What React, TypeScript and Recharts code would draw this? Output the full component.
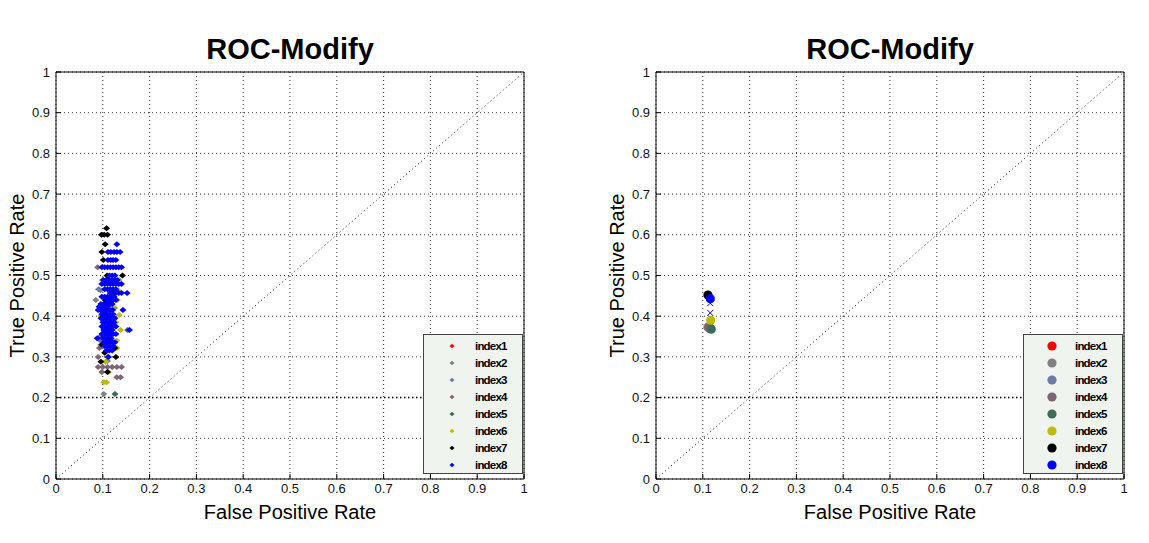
import React from 'react';
import {
  ScatterChart, Scatter, XAxis, YAxis, CartesianGrid, ReferenceLine, Legend,
} from 'recharts';

const TICKS = [0, 0.1, 0.2, 0.3, 0.4, 0.5, 0.6, 0.7, 0.8, 0.9, 1];
const SERIES_NAMES = ['index1', 'index2', 'index3', 'index4', 'index5', 'index6', 'index7', 'index8'];
const SERIES_COLORS = ['#ff0000', '#808080', '#6d7ca6', '#806476', '#3e6a58', '#bcbc00', '#000000', '#0000ff'];

// left panel: one ROC point per run, [fpr, tpr]
const leftIndex1: [number, number][] = [[0.11, 0.4], [0.115, 0.43], [0.108, 0.37]];
const leftIndex2: [number, number][] = [[0.102, 0.209], [0.085, 0.44], [0.095, 0.464], [0.1, 0.35], [0.125, 0.42]];
const leftIndex3: [number, number][] = [[0.091, 0.466], [0.096, 0.33], [0.11, 0.29], [0.12, 0.38]];
const leftIndex4: [number, number][] = [
  [0.089, 0.52], [0.093, 0.342], [0.093, 0.322], [0.09, 0.3], [0.09, 0.275], [0.1, 0.275],
  [0.11, 0.275], [0.12, 0.275], [0.13, 0.275], [0.14, 0.275], [0.098, 0.263], [0.138, 0.25],
  [0.13, 0.25], [0.095, 0.35],
];
const leftIndex5: [number, number][] = [[0.126, 0.209], [0.153, 0.366], [0.11, 0.3], [0.118, 0.34]];
const leftIndex6: [number, number][] = [
  [0.099, 0.489], [0.135, 0.489], [0.133, 0.464], [0.131, 0.44], [0.122, 0.423], [0.135, 0.403],
  [0.138, 0.366], [0.13, 0.322], [0.112, 0.3], [0.106, 0.288], [0.112, 0.263], [0.102, 0.238],
  [0.108, 0.238], [0.096, 0.4], [0.128, 0.385], [0.13, 0.34],
];
const leftIndex7: [number, number][] = [
  [0.108, 0.616], [0.097, 0.6], [0.103, 0.6], [0.11, 0.6], [0.105, 0.577], [0.098, 0.558],
  [0.101, 0.538], [0.109, 0.5], [0.142, 0.5], [0.105, 0.44], [0.112, 0.44], [0.1, 0.41],
  [0.118, 0.395], [0.108, 0.372], [0.126, 0.322], [0.128, 0.3], [0.096, 0.288], [0.11, 0.263],
  [0.098, 0.33], [0.12, 0.46], [0.104, 0.31],
];
const leftIndex8: [number, number][] = [
  [0.13, 0.577],
  [0.111, 0.558], [0.117, 0.558], [0.124, 0.558], [0.13, 0.558], [0.137, 0.558],
  [0.111, 0.538], [0.117, 0.538], [0.122, 0.538], [0.128, 0.538],
  [0.098, 0.52], [0.104, 0.52], [0.11, 0.52], [0.116, 0.52], [0.122, 0.52], [0.128, 0.52], [0.134, 0.52], [0.14, 0.52],
  [0.114, 0.5], [0.12, 0.5], [0.126, 0.5],
  [0.101, 0.489], [0.107, 0.489], [0.113, 0.489], [0.119, 0.489], [0.125, 0.489], [0.131, 0.489],
  [0.098, 0.479], [0.104, 0.479], [0.11, 0.479], [0.116, 0.479], [0.122, 0.479], [0.128, 0.479], [0.134, 0.479], [0.14, 0.479],
  [0.104, 0.466], [0.11, 0.466], [0.116, 0.466], [0.122, 0.466], [0.128, 0.466],
  [0.116, 0.457], [0.122, 0.457], [0.128, 0.457], [0.134, 0.457], [0.14, 0.457], [0.152, 0.457],
  [0.098, 0.448], [0.104, 0.448], [0.11, 0.448], [0.118, 0.448], [0.124, 0.448],
  [0.11, 0.44], [0.116, 0.44], [0.122, 0.44], [0.128, 0.44],
  [0.096, 0.43], [0.102, 0.43], [0.108, 0.43], [0.114, 0.43], [0.12, 0.43],
  [0.092, 0.423], [0.098, 0.423], [0.104, 0.423], [0.11, 0.423],
  [0.09, 0.415], [0.096, 0.415], [0.102, 0.415], [0.108, 0.415], [0.115, 0.415], [0.121, 0.415], [0.143, 0.415],
  [0.098, 0.405], [0.104, 0.405], [0.11, 0.405], [0.116, 0.405], [0.122, 0.405],
  [0.096, 0.395], [0.102, 0.395], [0.108, 0.395], [0.114, 0.395], [0.12, 0.395], [0.126, 0.395],
  [0.1, 0.385], [0.106, 0.385], [0.112, 0.385], [0.118, 0.385], [0.124, 0.385],
  [0.098, 0.375], [0.104, 0.375], [0.11, 0.375], [0.116, 0.375], [0.122, 0.375], [0.128, 0.375],
  [0.102, 0.366], [0.108, 0.366], [0.114, 0.366], [0.12, 0.366], [0.157, 0.366],
  [0.098, 0.356], [0.104, 0.356], [0.11, 0.356], [0.116, 0.356], [0.122, 0.356], [0.128, 0.356],
  [0.088, 0.346], [0.1, 0.346], [0.106, 0.346], [0.112, 0.346], [0.118, 0.346],
  [0.102, 0.336], [0.108, 0.336], [0.114, 0.336], [0.12, 0.336], [0.126, 0.336],
  [0.104, 0.326], [0.11, 0.326], [0.116, 0.326], [0.122, 0.326],
  [0.108, 0.316], [0.114, 0.316], [0.12, 0.316],
  [0.112, 0.3],
];

// right panel: averaged point per index
const rightIndex1: [number, number][] = [[0.115, 0.37]];
const rightIndex2: [number, number][] = [[0.111, 0.373]];
const rightIndex3: [number, number][] = [[0.115, 0.37]];
const rightIndex4: [number, number][] = [[0.113, 0.372]];
const rightIndex5: [number, number][] = [[0.118, 0.368]];
const rightIndex6: [number, number][] = [[0.117, 0.39]];
const rightIndex7: [number, number][] = [[0.111, 0.452]];
const rightIndex8: [number, number][] = [[0.116, 0.443]];
const rightCrosses: [number, number][] = [[0.116, 0.432], [0.116, 0.408]];

const toPoints = (arr: [number, number][]) => arr.map(([x, y]) => ({ x, y }));

const Diamond = (p: any) => {
  const { cx, cy, fill } = p;
  return <path d={`M${cx - 3.5},${cy} L${cx},${cy - 3} L${cx + 3.5},${cy} L${cx},${cy + 3} Z`} fill={fill} />;
};

const Dot = (p: any) => <circle cx={p.cx} cy={p.cy} r={4.6} fill={p.fill} />;

const XMark = (p: any) => {
  const { cx, cy } = p;
  return (
    <path
      d={`M${cx - 3},${cy - 3} L${cx + 3},${cy + 3} M${cx - 3},${cy + 3} L${cx + 3},${cy - 3}`}
      stroke="#0000ff" strokeWidth={1} fill="none"
    />
  );
};

const tickStyle = { fill: '#111', fontSize: 13 };

function LegendBox({ marker }: { marker: 'diamond' | 'circle' }) {
  return (
    <div style={{
      width: 100, height: 140, boxSizing: 'border-box', border: '1px solid #444',
      background: '#eff4ef', paddingTop: 3,
    }}>
      {SERIES_NAMES.map((name, i) => (
        <div key={name} style={{ height: 16.9, display: 'flex', alignItems: 'center', position: 'relative' }}>
          <svg width={20} height={12} style={{ position: 'absolute', left: 18 }}>
            {marker === 'diamond'
              ? <path d="M7.5,6 L10,3.8 L12.5,6 L10,8.2 Z" fill={SERIES_COLORS[i]} />
              : <circle cx={10} cy={6} r={4.6} fill={SERIES_COLORS[i]} />}
          </svg>
          <span style={{
            position: 'absolute', left: 51, fontSize: 11.5, fontWeight: 700, color: '#000',
            letterSpacing: -0.8, fontFamily: '"Liberation Sans", Arial, sans-serif',
          }}>{name}</span>
        </div>
      ))}
    </div>
  );
}

interface PanelProps {
  left: number;
  width: number;
  marginRight: number;
  series: [number, number][][];
  marker: 'diamond' | 'circle';
  crosses?: [number, number][];
}

function RocPanel({ left, width, marginRight, series, marker, crosses }: PanelProps) {
  return (
    <div style={{ position: 'absolute', left, top: 0, width, height: 543 }}>
      <div style={{
        position: 'absolute', top: 35, left: 56, width: 468, textAlign: 'center',
        fontSize: 29, lineHeight: '29px', fontWeight: 700, color: '#000',
      }}>ROC-Modify</div>
      <ScatterChart width={width} height={543} margin={{ top: 72, right: marginRight, bottom: 0, left: 0 }}>
        <CartesianGrid stroke="#333" strokeDasharray="1 3" />
        <XAxis
          type="number" dataKey="x" domain={[0, 1]} ticks={TICKS} height={64}
          tick={tickStyle} tickSize={-5} tickMargin={10}
          axisLine={{ stroke: '#000' }} tickLine={{ stroke: '#000' }}
          label={{ value: 'False Positive Rate', position: 'insideBottom', offset: 24, style: { fontSize: 20, fill: '#000' } }}
        />
        <YAxis
          type="number" dataKey="y" domain={[0, 1]} ticks={TICKS} width={56}
          tick={tickStyle} tickSize={-5} tickMargin={11}
          axisLine={{ stroke: '#000' }} tickLine={{ stroke: '#000' }}
          label={{
            value: 'True Positive Rate', angle: -90, position: 'insideLeft', offset: 17,
            style: { fontSize: 20, fill: '#000', textAnchor: 'middle' },
          }}
        />
        <ReferenceLine y={1} stroke="#000" />
        <ReferenceLine x={1} stroke="#000" />
        <ReferenceLine y={0.2} stroke="#000" strokeWidth={1.5} strokeDasharray="1.5 2.5" />
        <ReferenceLine segment={[{ x: 0, y: 0 }, { x: 1, y: 1 }]} stroke="#222" strokeDasharray="1 3" />
        {series.map((pts, i) => (
          <Scatter
            key={SERIES_NAMES[i]} name={SERIES_NAMES[i]} data={toPoints(pts)}
            fill={SERIES_COLORS[i]} shape={marker === 'diamond' ? Diamond : Dot}
            isAnimationActive={false}
          />
        ))}
        {crosses && (
          <Scatter name="cross" data={toPoints(crosses)} shape={XMark} legendType="none" isAnimationActive={false} />
        )}
        <Legend
          layout="vertical" align="center" verticalAlign="middle"
          wrapperStyle={{ left: 423, top: 334, width: 100, height: 140 }}
          content={() => <LegendBox marker={marker} />}
        />
      </ScatterChart>
    </div>
  );
}

export default function App() {
  return (
    <div style={{
      position: 'absolute', left: 0, top: 0, width: 1149, height: 543, background: '#fff',
      fontFamily: '"Liberation Sans", Arial, sans-serif', overflow: 'hidden',
    }}>
      <RocPanel
        left={0} width={575} marginRight={51} marker="diamond"
        series={[leftIndex1, leftIndex2, leftIndex3, leftIndex4, leftIndex5, leftIndex6, leftIndex7, leftIndex8]}
      />
      <RocPanel
        left={600} width={549} marginRight={25} marker="circle"
        series={[rightIndex1, rightIndex2, rightIndex3, rightIndex4, rightIndex5, rightIndex6, rightIndex7, rightIndex8]}
        crosses={rightCrosses}
      />
    </div>
  );
}
